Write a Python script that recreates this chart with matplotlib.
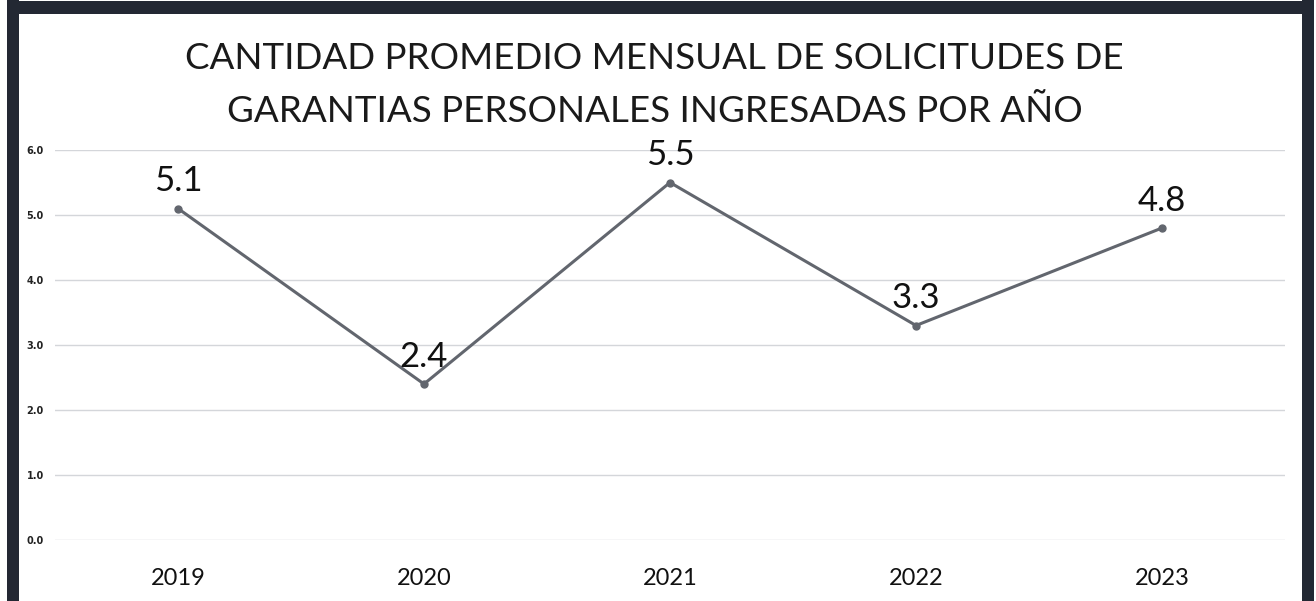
import matplotlib
matplotlib.use("Agg")
import matplotlib.pyplot as plt
from matplotlib.patches import Rectangle

years = ["2019", "2020", "2021", "2022", "2023"]
values = [5.1, 2.4, 5.5, 3.3, 4.8]
y_ticks = [0, 1, 2, 3, 4, 5, 6]

plt.rcParams['font.family'] = ['Lato', 'DejaVu Sans']

fig = plt.figure(figsize=(13.16, 6.01), dpi=100)
ax = fig.add_axes([55 / 1316, 1 - 540 / 601, 1230 / 1316, 390 / 601])

x = list(range(len(years)))
ax.plot(x, values, color='#62666e', lw=2.2, marker='o', ms=5, zorder=3)
for xi, v in zip(x, values):
    ax.annotate(f"{v:.1f}", (xi, v), xytext=(0, 8), textcoords='offset points',
                ha='center', va='bottom', fontsize=25, color='#111111')

ax.set_xlim(-0.5, len(years) - 0.5)
ax.set_ylim(0, 6)
ax.set_xticks(x)
ax.set_xticklabels(years, fontsize=17, color='#111111')
ax.set_yticks(y_ticks)
ax.set_yticklabels([f"{t:.1f}" for t in y_ticks], fontsize=7, color='#222222',
                   fontweight='bold', family='DejaVu Sans')
ax.tick_params(length=0)
ax.tick_params(axis='x', pad=20)
ax.tick_params(axis='y', pad=8)
ax.grid(axis='y', color='#d4d6da', lw=1)
ax.set_axisbelow(True)
for s in ax.spines.values():
    s.set_visible(False)

fig.text(0.4975, 0.903, "CANTIDAD PROMEDIO MENSUAL DE SOLICITUDES DE", ha='center', va='center',
         fontsize=26.5, color='#1a1a1a')
fig.text(0.4975, 0.815, "GARANTIAS PERSONALES INGRESADAS POR AÑO", ha='center', va='center',
         fontsize=26.5, color='#1a1a1a')

# dark scan frame
for (x0, y0, w, h) in [(7, 0, 12, 601), (7, 587, 1306, 13), (1302, 0, 12, 601)]:
    fig.add_artist(Rectangle((x0 / 1316, y0 / 601), w / 1316, h / 601,
                             transform=fig.transFigure, color='#232833', lw=0))

fig.savefig("out.png", dpi=100)
